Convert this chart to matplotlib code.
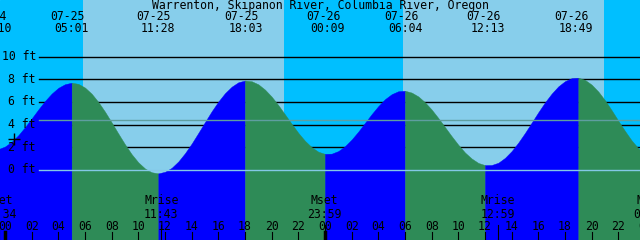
import matplotlib
matplotlib.use("Agg")
import matplotlib.pyplot as plt
import numpy as np

# Tide level (ft) every half hour, hours counted from 07-25 00:00
hours = np.arange(-0.5, 48.01, 0.5)
level = np.array([
    1.84, 2.07, 2.49, 3.07, 3.78, 4.55, 5.34, 6.09, 6.74, 7.25, 7.57, 7.70,
    7.60, 7.27, 6.73, 6.00, 5.14, 4.19, 3.21, 2.26, 1.39, 0.67, 0.13, -0.20,
    -0.30, -0.16, 0.19, 0.75, 1.48, 2.33, 3.27, 4.23, 5.18, 6.04, 6.78, 7.35,
    7.74, 7.89, 7.83, 7.56, 7.09, 6.47, 5.72, 4.90, 4.07, 3.27, 2.57, 2.01,
    1.61, 1.42, 1.44, 1.67, 2.10, 2.69, 3.39, 4.16, 4.93, 5.64, 6.25, 6.69,
    6.95, 6.99, 6.83, 6.49, 5.97, 5.33, 4.58, 3.78, 2.98, 2.22, 1.54, 1.01,
    0.62, 0.43, 0.44, 0.64, 1.07, 1.67, 2.42, 3.27, 4.18, 5.10, 5.97, 6.74,
    7.38, 7.84, 8.10, 8.14, 7.95, 7.53, 6.92, 6.15, 5.27, 4.34, 3.44, 2.60,
    1.91, 1.38,
])

# high / low tide events shown at the top
tide_hours = [-0.83, 5.02, 11.47, 18.05, 24.15, 30.07, 36.22, 42.82]
tide_dates = ["07-24", "07-25", "07-25", "07-25", "07-26", "07-26", "07-26", "07-26"]
tide_times = ["23:10", "05:01", "11:28", "18:03", "00:09", "06:04", "12:13", "18:49"]

# moon events shown at the bottom
moon_hours = [-0.43, 11.72, 23.98, 36.98, 48.4]
moon_names = ["Mset", "Mrise", "Mset", "Mrise", "Mset"]
moon_times = ["23:34", "11:43", "23:59", "12:59", "00:24"]

# daylight periods (sunrise, sunset) in hours
daylight = [(5.85, 20.93), (29.85, 44.9)]

title = "Warrenton, Skipanon River, Columbia River, Oregon"
grid_levels = [2, 4, 6, 8, 10]
label_levels = [0, 2, 4, 6, 8, 10]
mean_level = 4.38
hour_ticks = np.arange(0, 49, 2)

W, H = 640, 240
x0, x1 = -0.375, 47.625
y0, y1 = -6.18, 15.0

fig = plt.figure(figsize=(6.4, 2.4), dpi=100)
ax = fig.add_axes([0, 0, 1, 1])
ax.set_xlim(x0, x1)
ax.set_ylim(y0, y1)
ax.axis("off")

font = dict(family="DejaVu Sans Mono", size=8.3, color="black")

# night / day background
ax.axvspan(x0, x1, color="#00bfff", zorder=0)
for rise, sset in daylight:
    ax.axvspan(rise, sset, color="#87ceeb", lw=0, zorder=0)

# black level lines (behind the water)
for v in grid_levels:
    ax.axhline(v, xmin=39 / W, xmax=1, color="black", lw=1.0, zorder=1)

# water: blue while rising, green while falling
rising = np.diff(level) > 0
start = 0
for i in range(1, len(rising) + 1):
    if i == len(rising) or rising[i] != rising[start]:
        seg = slice(start, i + 1)
        c = "#0000ff" if rising[start] else "#2e8b57"
        ax.fill_between(hours[seg], level[seg], y0 - 1, color=c,
                        lw=0.3, edgecolor=c, zorder=2)
        start = i

# datum and mean level lines drawn over the water
ax.axhline(0, xmin=39 / W, xmax=1, color="#84c8e6", lw=1.0, zorder=3)
ax.axhline(mean_level, xmin=39 / W, xmax=1, color="#5f9ea0", lw=1.0, zorder=3)

# y labels
for v in label_levels:
    ax.text(36 / W, v, f"{v} ft", transform=ax.get_yaxis_transform(),
            ha="right", va="center", zorder=4, **font)

ax.plot([0.675], [2.75], marker="+", ms=8, mew=1.0, color="black", zorder=4)

xt = ax.get_xaxis_transform()
ax.text(0.5, 1 - 6 / H, title, transform=ax.transAxes, ha="center",
        va="center", zorder=4, **font)
for h, d, t in zip(tide_hours, tide_dates, tide_times):
    ax.text(h - 0.3, 1 - 17 / H, d, transform=xt, ha="center", va="center",
            zorder=4, **font)
    ax.text(h, 1 - 29 / H, t, transform=xt, ha="center", va="center",
            zorder=4, **font)

for h, n, t in zip(moon_hours, moon_names, moon_times):
    ax.text(h, 1 - 201 / H, n, transform=xt, ha="center", va="center",
            zorder=4, **font)
    ax.text(h, 1 - 214 / H, t, transform=xt, ha="center", va="center",
            zorder=4, **font)
    ax.plot([h, h], [0, 15 / H], transform=xt, color="black", lw=0.8, zorder=4)

for h in hour_ticks:
    ax.text(h, 1 - 226 / H, f"{h % 24:02d}", transform=xt, ha="center",
            va="center", zorder=4, **font)
    lw = 2.5 if h % 24 == 0 else 0.8
    ax.plot([h, h], [0, 8 / H], transform=xt, color="black", lw=lw, zorder=4)

fig.savefig("out.png", dpi=100)
